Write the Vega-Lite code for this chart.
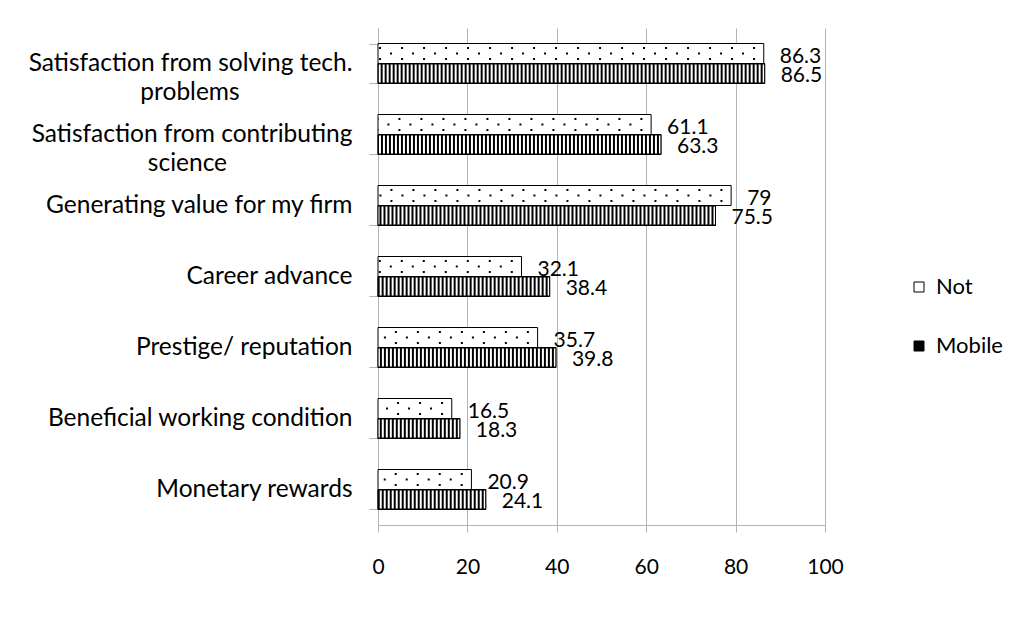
{
  "$schema": "https://vega.github.io/schema/vega-lite/v6.json",
  "width": 447,
  "height": 497,
  "autosize": "none",
  "padding": {"left": 378, "top": 28, "right": 200, "bottom": 93},
  "background": "white",
  "config": {"view": {"stroke": null}, "font": "Lato"},
  "data": {
    "values": [
      {"cat": "Satisfaction from solving tech. problems", "series": "Not", "value": 86.3},
      {"cat": "Satisfaction from solving tech. problems", "series": "Mobile", "value": 86.5},
      {"cat": "Satisfaction from contributing science", "series": "Not", "value": 61.1},
      {"cat": "Satisfaction from contributing science", "series": "Mobile", "value": 63.3},
      {"cat": "Generating value for my firm", "series": "Not", "value": 79},
      {"cat": "Generating value for my firm", "series": "Mobile", "value": 75.5},
      {"cat": "Career advance", "series": "Not", "value": 32.1},
      {"cat": "Career advance", "series": "Mobile", "value": 38.4},
      {"cat": "Prestige/ reputation", "series": "Not", "value": 35.7},
      {"cat": "Prestige/ reputation", "series": "Mobile", "value": 39.8},
      {"cat": "Beneficial working condition", "series": "Not", "value": 16.5},
      {"cat": "Beneficial working condition", "series": "Mobile", "value": 18.3},
      {"cat": "Monetary rewards", "series": "Not", "value": 20.9},
      {"cat": "Monetary rewards", "series": "Mobile", "value": 24.1}
    ]
  },
  "encoding": {
    "y": {
      "field": "cat",
      "type": "nominal",
      "sort": null,
      "scale": {"paddingInner": 0.437, "paddingOuter": 0.2185},
      "axis": {
        "title": null,
        "domainColor": "#b4b4b4",
        "tickColor": "#b4b4b4",
        "tickBand": "extent",
        "tickSize": 9,
        "labelPadding": 17,
        "labelFontSize": 24.5,
        "labelColor": "black",
        "labelLimit": 400,
        "labelLineHeight": 29,
        "labelExpr": "datum.label == 'Satisfaction from solving tech. problems' ? ['Satisfaction from solving tech.', 'problems\u00a0\u00a0\u00a0\u00a0\u00a0\u00a0\u00a0\u00a0\u00a0\u00a0\u00a0\u00a0\u00a0\u00a0\u00a0\u00a0\u00a0\u00a0\u200b'] : datum.label == 'Satisfaction from contributing science' ? ['Satisfaction from contributing', 'science\u00a0\u00a0\u00a0\u00a0\u00a0\u00a0\u00a0\u00a0\u00a0\u00a0\u00a0\u00a0\u00a0\u00a0\u00a0\u00a0\u00a0\u00a0\u00a0\u00a0\u200b'] : datum.label",
        "encode": {
          "labels": {
            "update": {
              "dy": {"signal": "indexof(datum.value, 'Satisfaction') == 0 ? -10 : 0"}
            }
          }
        },
        "grid": false
      }
    },
    "x": {
      "field": "value",
      "type": "quantitative",
      "scale": {"domain": [0, 100]},
      "axis": {
        "title": null,
        "values": [0, 20, 40, 60, 80, 100],
        "grid": true,
        "gridColor": "#b4b4b4",
        "domainColor": "#b4b4b4",
        "tickColor": "#b4b4b4",
        "tickSize": 7,
        "labelFontSize": 21,
        "labelPadding": 24,
        "labelColor": "black",
        "labelFlush": false,
        "labelOverlap": false
      }
    }
  },
  "layer": [
    {
      "transform": [{"filter": "datum.series == 'Not'"}],
      "mark": {"type": "bar", "height": 20, "yOffset": -10, "stroke": "black", "strokeWidth": 1},
      "encoding": {
        "fill": {
          "field": "series",
          "type": "nominal",
          "scale": {"domain": ["Not", "Mobile"], "range": ["white", "black"]},
          "legend": {
            "title": null,
            "orient": "none",
            "legendX": 530,
            "legendY": 248,
            "symbolType": "square",
            "symbolSize": 100,
            "symbolStrokeColor": "black",
            "symbolStrokeWidth": 1,
            "labelFontSize": 22,
            "labelColor": "black",
            "rowPadding": 37,
            "labelOffset": 6
          }
        }
      }
    },
    {
      "transform": [{"filter": "datum.series == 'Mobile'"}],
      "mark": {"type": "bar", "height": 20, "yOffset": 10, "stroke": "black", "strokeWidth": 1},
      "encoding": {
        "fill": {"field": "series", "type": "nominal"}
      }
    },
    {
      "transform": [{"filter": "datum.series == 'Mobile'"}],
      "mark": {"type": "rule", "yOffset": 10, "stroke": "white", "strokeWidth": 18, "strokeDash": [2, 2], "strokeDashOffset": 0, "strokeCap": "butt"},
      "encoding": {
        "x2": {"datum": 0}
      }
    },
    {
      "transform": [{"filter": "datum.series == 'Mobile'"}],
      "mark": {"type": "bar", "height": 20, "yOffset": 10, "stroke": "black", "strokeWidth": 1, "fillOpacity": 0}
    },
    {
      "transform": [{"filter": "datum.series == 'Not'"}],
      "mark": {"type": "rule", "yOffset": -15.5, "stroke": "black", "strokeWidth": 2, "strokeDash": [2, 20], "strokeDashOffset": 13.3, "strokeCap": "butt"},
      "encoding": {
        "x2": {"datum": 0}
      }
    },
    {
      "transform": [{"filter": "datum.series == 'Not'"}],
      "mark": {"type": "rule", "yOffset": -10, "stroke": "black", "strokeWidth": 2, "strokeDash": [2, 20], "strokeDashOffset": 2.3, "strokeCap": "butt"},
      "encoding": {
        "x2": {"datum": 0}
      }
    },
    {
      "transform": [{"filter": "datum.series == 'Not'"}],
      "mark": {"type": "rule", "yOffset": -4.5, "stroke": "black", "strokeWidth": 2, "strokeDash": [2, 20], "strokeDashOffset": 13.3, "strokeCap": "butt"},
      "encoding": {
        "x2": {"datum": 0}
      }
    },
    {
      "transform": [{"filter": "datum.series == 'Not'"}],
      "mark": {"type": "text", "align": "left", "baseline": "middle", "dx": 16, "yOffset": -7, "fontSize": 21, "color": "black"},
      "encoding": {
        "text": {"field": "value", "type": "nominal"}
      }
    },
    {
      "transform": [{"filter": "datum.series == 'Mobile'"}],
      "mark": {"type": "text", "align": "left", "baseline": "middle", "dx": 16, "yOffset": 12, "fontSize": 21, "color": "black"},
      "encoding": {
        "text": {"field": "value", "type": "nominal"}
      }
    }
  ]
}
